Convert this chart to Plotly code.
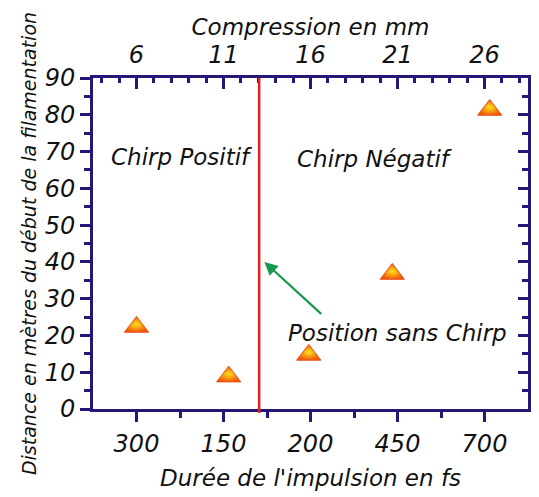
import plotly.graph_objects as go

# ---- data ----
compression_mm = [6.0, 11.3, 15.9, 20.7, 26.3]
distance_m = [22.3, 8.8, 14.7, 36.7, 81.3]
top_tick_vals = [6, 11, 16, 21, 26]
top_tick_text = ["6", "11", "16", "21", "26"]
bottom_tick_text = ["300", "150", "200", "450", "700"]
y_tick_vals = [0, 10, 20, 30, 40, 50, 60, 70, 80, 90]
no_chirp_mm = 13.05
x_range = [3.5, 28.5]
y_range = [0, 90]

NAVY = "#24177a"
FONT = "DejaVu Sans"

fig = go.Figure()

fig.add_trace(go.Scatter(
    x=compression_mm, y=distance_m, mode="markers",
    marker=dict(symbol="triangle-up", size=21, color="#f05a0a",
                gradient=dict(type="radial", color="#ffe11a"),
                line=dict(color="#e8501a", width=1)),
    showlegend=False, hoverinfo="skip", cliponaxis=False,
))
# invisible trace to anchor the mirrored axes
fig.add_trace(go.Scatter(x=x_range, y=y_range, xaxis="x2", yaxis="y2",
                         mode="markers", marker=dict(opacity=0),
                         showlegend=False, hoverinfo="skip"))

# red vertical line (position without chirp)
fig.add_shape(type="line", xref="x", yref="paper", x0=no_chirp_mm, x1=no_chirp_mm,
              y0=-0.012, y1=1.0, line=dict(color="#e3231b", width=2.5), layer="above")

# green arrow
fig.add_annotation(x=13.35, y=40, ax=16.7, ay=25.5, xref="x", yref="y",
                   axref="x", ayref="y", text="", showarrow=True,
                   arrowhead=2, arrowsize=1.2, arrowwidth=2.2, arrowcolor="#16994a")

tfont = dict(family=FONT, size=23, color="#111111", style="italic")
fig.add_annotation(x=8.6, y=68.5, xref="x", yref="y", text="Chirp Positif",
                   showarrow=False, font=tfont)
fig.add_annotation(x=19.7, y=68, xref="x", yref="y", text="Chirp Négatif",
                   showarrow=False, font=tfont)
fig.add_annotation(x=21.0, y=20.8, xref="x", yref="y", text="Position sans Chirp",
                   showarrow=False, font=tfont)

tick_font = dict(family=FONT, size=24, color="#111111", style="italic")
title_font = dict(family=FONT, size=23, color="#111111", style="italic")

# page body has an 8px margin, so the figure is 8px smaller than the window
fig.update_layout(
    width=531, height=489,
    margin=dict(l=85, r=11, t=70, b=88),
    paper_bgcolor="white", plot_bgcolor="white",
    xaxis=dict(
        range=x_range, tickvals=top_tick_vals, ticktext=bottom_tick_text,
        ticks="outside", ticklen=10, tickwidth=3, tickcolor=NAVY,
        minor=dict(tickvals=[8.5, 13.5, 18.5, 23.5], ticks="outside", ticklen=6,
                   tickwidth=3, tickcolor=NAVY),
        showline=True, linecolor=NAVY, linewidth=3, showgrid=False, zeroline=False,
        tickfont=tick_font, ticklabelstandoff=1, automargin=False,
        title=dict(text="Durée de l'impulsion en fs", font=title_font, standoff=14),
    ),
    xaxis2=dict(
        range=x_range, overlaying="x", side="top", anchor="y",
        tickvals=top_tick_vals, ticktext=top_tick_text,
        ticks="inside", ticklen=11, tickwidth=3, tickcolor=NAVY,
        minor=dict(dtick=1, tick0=6, ticks="inside", ticklen=5, tickwidth=3, tickcolor=NAVY),
        showline=True, linecolor=NAVY, linewidth=3, showgrid=False, zeroline=False,
        tickfont=tick_font, ticklabelstandoff=2, automargin=False,
        title=dict(text="Compression en mm", font=title_font, standoff=0),
    ),
    yaxis=dict(
        range=y_range, tickvals=y_tick_vals,
        ticks="outside", ticklen=10, tickwidth=3, tickcolor=NAVY,
        minor=dict(dtick=5, tick0=0, ticks="outside", ticklen=6, tickwidth=3, tickcolor=NAVY),
        showline=True, linecolor=NAVY, linewidth=3, showgrid=False, zeroline=False,
        tickfont=tick_font, ticklabelstandoff=0, automargin=False,
        title=dict(text="Distance en mètres du début de la filamentation",
                   font=dict(family=FONT, size=19, color="#111111", style="italic"),
                   standoff=4),
    ),
    yaxis2=dict(
        range=y_range, overlaying="y", side="right", anchor="x",
        tickvals=y_tick_vals, showticklabels=False,
        ticks="inside", ticklen=10, tickwidth=3, tickcolor=NAVY,
        minor=dict(dtick=5, tick0=0, ticks="inside", ticklen=6, tickwidth=3, tickcolor=NAVY),
        showline=True, linecolor=NAVY, linewidth=3, showgrid=False, zeroline=False,
        automargin=False,
    ),
)

fig.write_html("out.html")
